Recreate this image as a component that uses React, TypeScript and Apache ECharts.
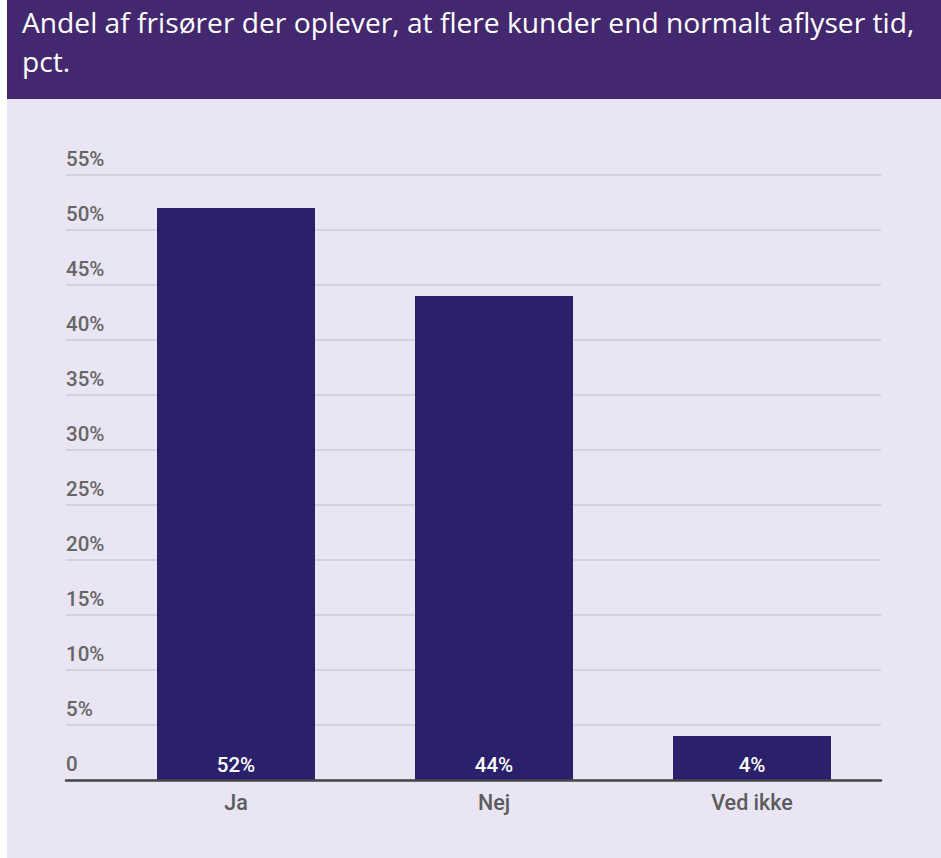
import React, { useEffect, useRef } from "react";
import * as echarts from "echarts";

const titleLines = ["Andel af frisører der oplever, at flere kunder end normalt aflyser tid,", "pct."];
const categories = ["Ja", "Nej", "Ved ikke"];
const shares = [52, 44, 4];
const yMax = 55;
const yStep = 5;

export default function App() {
  const ref = useRef<HTMLDivElement>(null);
  useEffect(() => {
    if (!ref.current) return;
    const chart = echarts.init(ref.current, undefined, { renderer: "svg" });
    chart.setOption({
      animation: false,
      backgroundColor: "#ffffff",
      graphic: [
        { type: "rect", shape: { x: 7, y: 0, width: 934, height: 99 }, style: { fill: "#43286f" }, z: -10 },
        { type: "rect", shape: { x: 7, y: 99, width: 934, height: 759 }, style: { fill: "#e9e5f4" }, z: -10 },
        {
          type: "text",
          x: 22,
          y: 2,
          style: {
            text: titleLines.join("\n"),
            fill: "#ffffff",
            font: "28.2px 'Open Sans'",
            lineHeight: 39,
          },
        },
      ],
      grid: [
        { left: 66, right: 60, top: 175, bottom: 78 },
        { left: 107, right: 60, top: 175, bottom: 78 },
      ],
      xAxis: [
        {
          gridIndex: 0,
          type: "category",
          data: [""],
          axisLine: { show: true, lineStyle: { color: "#454545", width: 2.5 } },
          axisTick: { show: false },
          axisLabel: { show: false },
          z: 10,
        },
        {
          gridIndex: 1,
          type: "category",
          data: categories,
          axisLine: { show: false },
          axisTick: { show: false },
          axisLabel: { color: "#5c5c5c", fontSize: 21.5, fontFamily: "Roboto", fontWeight: 500, margin: 11 },
        },
      ],
      yAxis: [
        {
          gridIndex: 0,
          type: "value",
          min: 0,
          max: yMax,
          interval: yStep,
          axisLine: { show: false },
          axisTick: { show: false },
          splitLine: { lineStyle: { color: "#cdc8da", width: 1.5 } },
          axisLabel: {
            inside: true,
            align: "left",
            verticalAlign: "bottom",
            margin: 0,
            padding: [0, 0, 6, 0],
            color: "#666666",
            fontSize: 20.5,
            fontFamily: "Roboto",
            fontWeight: 500,
            formatter: (v: number) => (v === 0 ? "0" : v + "%"),
          },
        },
        { gridIndex: 1, type: "value", min: 0, max: yMax, interval: yStep, show: false },
      ],
      series: [
        {
          type: "bar",
          xAxisIndex: 1,
          yAxisIndex: 1,
          data: shares,
          barWidth: 158,
          itemStyle: { color: "#2a206b" },
          label: {
            show: true,
            position: "insideBottom",
            distance: 5,
            color: "#ffffff",
            fontSize: 20.5,
            fontFamily: "Roboto",
            fontWeight: 500,
            formatter: "{c}%",
          },
        },
      ],
    });
    return () => chart.dispose();
  }, []);
  return <div ref={ref} style={{ position: "fixed", left: 0, top: 0, width: 941, height: 858 }} />;
}
